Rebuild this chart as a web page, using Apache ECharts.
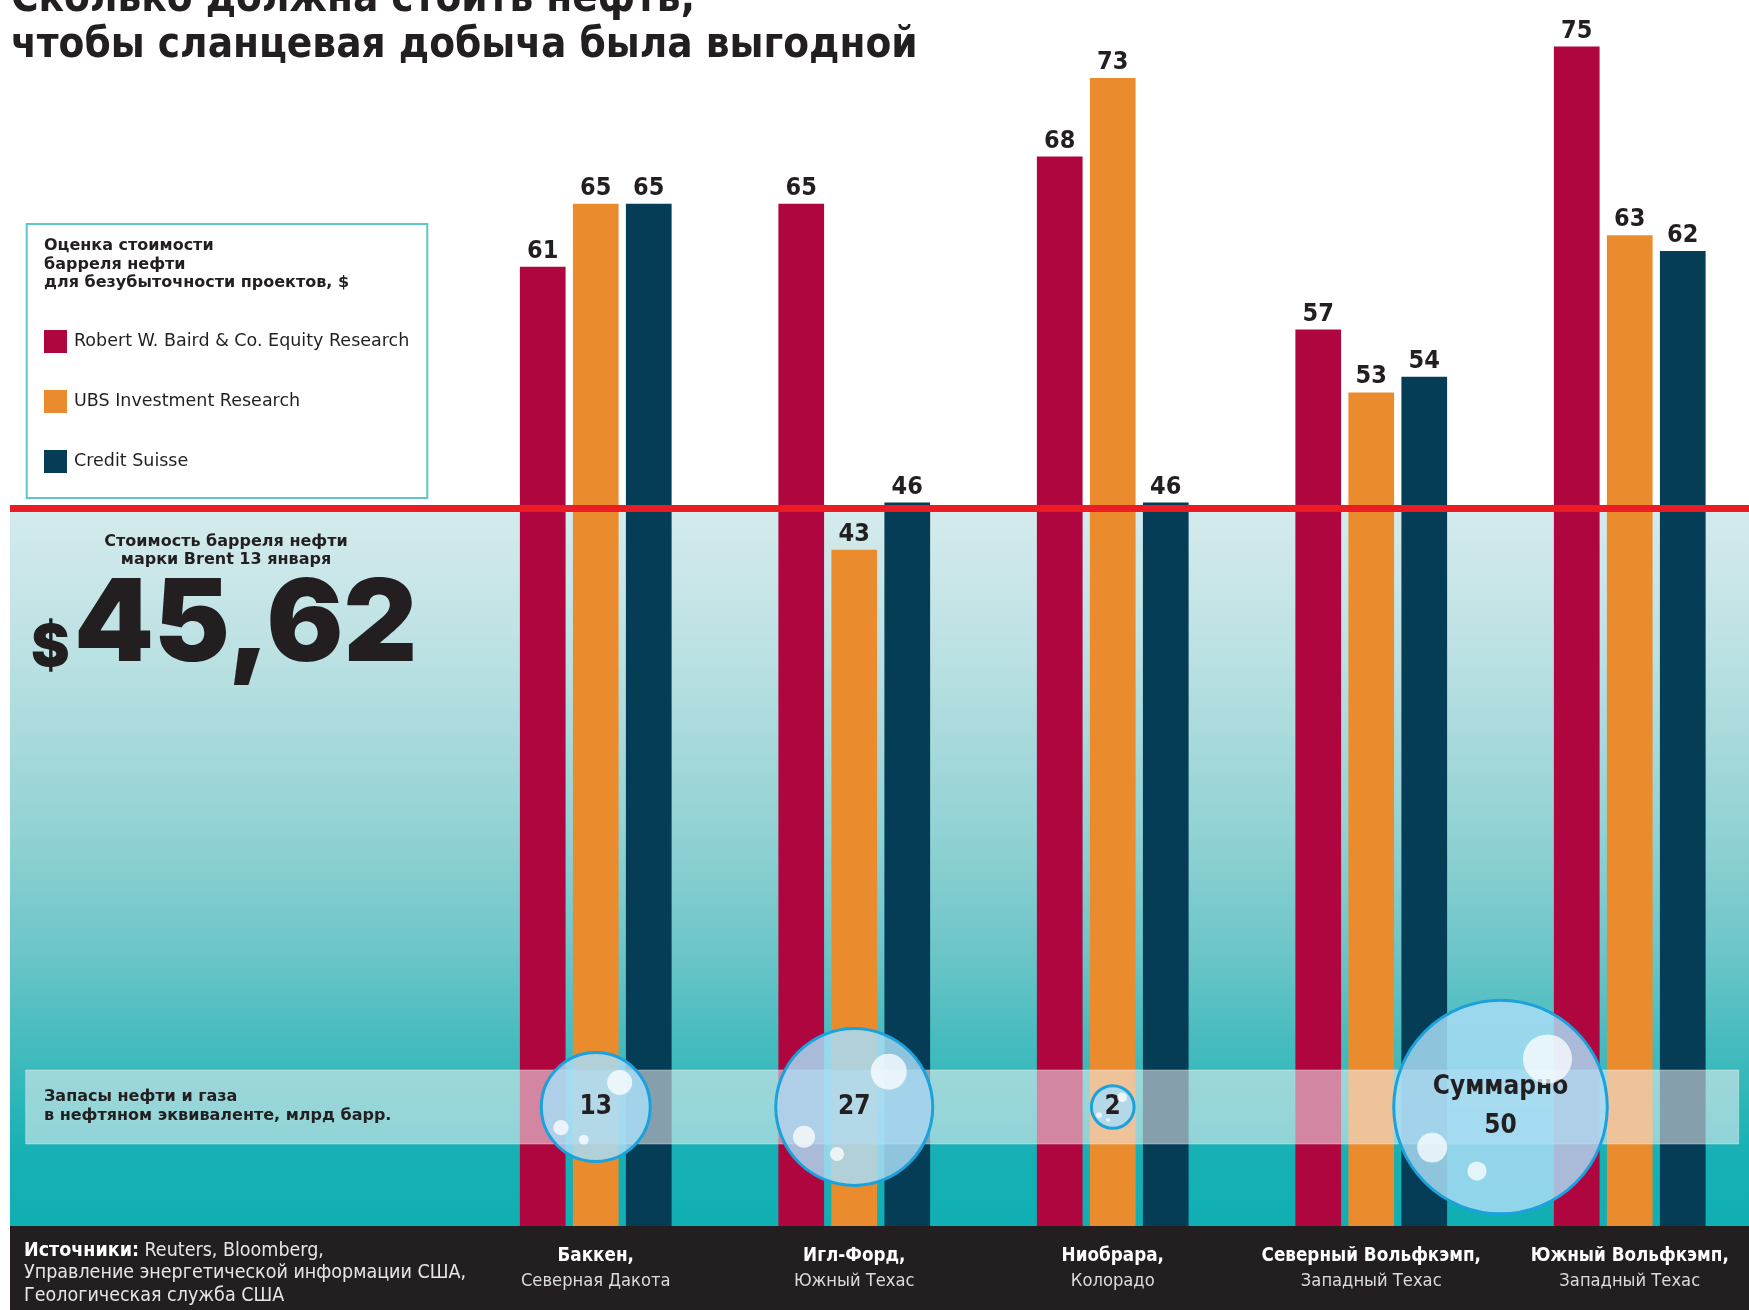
<!DOCTYPE html>
<html>
<head>
<meta charset="utf-8">
<script src="https://cdn.jsdelivr.net/npm/echarts@6/dist/echarts.min.js"></script>
<style>
  html, body { margin: 0; padding: 0; background: #fff; }
  #main { width: 1749px; height: 1310px; }
</style>
</head>
<body>
<div id="main"></div>
<script>
// данные
const categories = ['Баккен,', 'Игл-Форд,', 'Ниобрара,', 'Северный Вольфкэмп,', 'Южный Вольфкэмп,'];
const regions = ['Северная Дакота', 'Южный Техас', 'Колорадо', 'Западный Техас', 'Западный Техас'];
const seriesNames = ['Robert W. Baird & Co. Equity Research', 'UBS Investment Research', 'Credit Suisse'];
const bairdData = [61, 65, 68, 57, 75];
const ubsData = [65, 43, 73, 53, 63];
const creditData = [65, 46, 46, 54, 62];
const brentPrice = 45.62;
// запасы, млрд барр. (последнее значение — сумма по двум Вольфкэмпам)
const reserves = [13, 27, 2, 50];
const reserveCats = [[0], [1], [2], [3, 4]];
const reserveLabels = ['13', '27', '2', 'Суммарно\n50'];

const colors = ['#b0063f', '#ea8c2e', '#053d57'];
const ink = '#231f20';

// узкий шрифт: берём первый установленный
const measureCtx = document.createElement('canvas').getContext('2d');
function fontAvailable(name) {
    const s = 'абвгдежзий ЁЖЩ 0123456789 WwMm';
    return ['monospace', 'serif'].every(base => {
        measureCtx.font = '40px ' + base;
        const w0 = measureCtx.measureText(s).width;
        measureCtx.font = '40px "' + name + '", ' + base;
        return measureCtx.measureText(s).width !== w0;
    });
}
const narrow = ['DejaVu Sans Condensed', 'Liberation Sans Narrow', 'Roboto Condensed',
    'Noto Sans Condensed', 'Open Sans Condensed'].find(fontAvailable) || 'Roboto';
function fitSize(str, weight, family, width) {
    measureCtx.font = weight + ' 100px "' + family + '"';
    return Math.round(100 * width / measureCtx.measureText(str).width * 10) / 10;
}

const titleSize = fitSize('чтобы сланцевая добыча была выгодной', 'bold', narrow, 907);
const valueSize = Math.max(25, fitSize('65', 'bold', narrow, 26.5));
const bubbleSizeFont = Math.max(26, fitSize('13', 'bold', narrow, 29));
const catBoldSize = fitSize('Северный Вольфкэмп,', 'bold', narrow, 220);
const catSize = fitSize('Северная Дакота', 'normal', narrow, 149.5);
const srcSize = fitSize('Управление энергетической информации США,', 'normal', narrow, 442);

let chartDom = document.getElementById('main');
let myChart = echarts.init(chartDom);

const maxValue = Math.max(...bairdData, ...ubsData, ...creditData);
const bubbleSize = v => 30.2 * Math.sqrt(v);
const bubbleData = reserves.map((v, i) => {
    const cats = reserveCats[i];
    const x = cats.reduce((a, b) => a + b, 0) / cats.length;
    return [x, 0.5, v];
});

function barSeries(name, data, color) {
    return {
        name: name,
        type: 'bar',
        data: data,
        barWidth: 45.7,
        barGap: '16%',
        z: 2,
        itemStyle: { color: color },
        label: {
            show: true,
            position: 'top',
            distance: 3,
            color: ink,
            fontFamily: narrow,
            fontWeight: 'bold',
            fontSize: valueSize
        }
    };
}

let option = {
    animation: false,
    backgroundColor: '#fff',
    title: {
        text: 'Сколько должна стоить нефть,\nчтобы сланцевая добыча была выгодной',
        left: 11,
        top: -23,
        padding: 0,
        textStyle: { color: ink, fontFamily: narrow, fontWeight: 'bold', fontSize: titleSize, lineHeight: 46 }
    },
    legend: {
        orient: 'vertical',
        left: 44,
        top: 330,
        padding: 0,
        itemWidth: 23,
        itemHeight: 23,
        itemGap: 37,
        icon: 'rect',
        data: seriesNames,
        textStyle: { color: ink, fontFamily: 'DejaVu Sans', fontSize: 17.5, padding: [0, 0, 0, 2] }
    },
    grid: [
        { left: 466.5, width: 1292.5, top: 46.5, bottom: 84, outerBoundsMode: 'none' },
        { left: 466.5, width: 1292.5, top: 1070, height: 74, outerBoundsMode: 'none' }
    ],
    xAxis: [
        {
            type: 'category',
            gridIndex: 0,
            data: categories,
            z: 10,
            axisLine: { show: false },
            axisTick: { show: false },
            axisLabel: {
                interval: 0,
                margin: 18,
                formatter: (v, i) => '{b|' + v + '}\n{r|' + regions[i] + '}',
                rich: {
                    b: { color: '#fff', fontFamily: narrow, fontWeight: 'bold', fontSize: catBoldSize, lineHeight: 25 },
                    r: { color: '#dcdcdc', fontFamily: narrow, fontSize: catSize, lineHeight: 25 }
                }
            }
        },
        { type: 'value', gridIndex: 1, min: -0.5, max: categories.length - 0.5, show: false }
    ],
    yAxis: [
        { type: 'value', gridIndex: 0, min: 0, max: maxValue, show: false, splitLine: { show: false } },
        { type: 'value', gridIndex: 1, min: 0, max: 1, show: false, splitLine: { show: false } }
    ],
    series: [
        barSeries(seriesNames[0], bairdData, colors[0]),
        barSeries(seriesNames[1], ubsData, colors[1]),
        barSeries(seriesNames[2], creditData, colors[2]),
        {
            type: 'scatter',
            xAxisIndex: 1,
            yAxisIndex: 1,
            z: 6,
            data: bubbleData,
            symbolSize: d => bubbleSize(d[2]),
            itemStyle: { color: 'rgba(168,220,244,0.85)', borderColor: '#1ba1dc', borderWidth: 3, opacity: 1 },
            label: {
                show: true,
                position: 'inside',
                formatter: p => reserveLabels[p.dataIndex],
                color: ink,
                fontFamily: narrow,
                fontWeight: 'bold',
                fontSize: bubbleSizeFont,
                lineHeight: 39
            }
        }
    ]
};

myChart.setOption(option);

// фон, линия Brent, подписи — по координатам осей
const yBrent = myChart.convertToPixel({ yAxisIndex: 0 }, brentPrice);
const yZero = myChart.convertToPixel({ yAxisIndex: 0 }, 0);
const W = 1749, H = 1310;

let graphics = [
    {
        type: 'rect', z: 0, silent: true,
        shape: { x: 10, y: yBrent, width: W - 10, height: yZero - yBrent },
        style: {
            fill: new echarts.graphic.LinearGradient(0, 0, 0, 1, [
                { offset: 0, color: '#d5ebed' },
                { offset: 0.2, color: '#bce1e3' },
                { offset: 0.45, color: '#92d2d4' },
                { offset: 0.62, color: '#6cc5c8' },
                { offset: 0.78, color: '#3bb9bc' },
                { offset: 0.9, color: '#16b0b4' },
                { offset: 1, color: '#10afb3' }
            ])
        }
    },
    {
        type: 'rect', z: 3, silent: true,
        shape: { x: 10, y: yBrent - 3.5, width: W - 10, height: 7 },
        style: { fill: '#ec1c24' }
    },
    {
        type: 'rect', z: 1, silent: true,
        shape: { x: 10, y: yZero, width: W - 10, height: H - yZero },
        style: { fill: ink }
    },
    {
        type: 'rect', z: 1, silent: true,
        shape: { x: 26.7, y: 224, width: 400.6, height: 274 },
        style: { fill: '#fff', stroke: '#5cc6c9', lineWidth: 2 }
    },
    {
        type: 'text', z: 8, left: 44, top: 237,
        style: {
            text: 'Оценка стоимости\nбарреля нефти\nдля безубыточности проектов, $',
            fill: ink, font: 'bold 16px "DejaVu Sans"', lineHeight: 18.3
        }
    },
    {
        type: 'text', z: 8, x: 226, y: 551,
        style: {
            text: 'Стоимость барреля нефти\nмарки Brent 13 января',
            fill: ink, font: 'bold 16px "DejaVu Sans"', lineHeight: 17.5,
            align: 'center', verticalAlign: 'middle'
        }
    },
    {
        type: 'text', z: 8, x: 31, y: 649,
        style: { text: '$', fill: ink, font: '900 58px Inter', verticalAlign: 'middle' }
    },
    {
        type: 'text', z: 8, x: 74, y: 627,
        style: { text: brentPrice.toFixed(2).replace('.', ','), fill: ink, font: '900 114px Inter', verticalAlign: 'middle' }
    },
    {
        type: 'rect', z: 4, silent: true,
        shape: { x: 25.7, y: 1070, width: 1713, height: 74 },
        style: { fill: 'rgba(240,240,242,0.55)', stroke: 'rgba(255,255,255,0.35)', lineWidth: 1 }
    },
    {
        type: 'text', z: 8, x: 44, y: 1106,
        style: {
            text: 'Запасы нефти и газа\nв нефтяном эквиваленте, млрд барр.',
            fill: ink, font: 'bold 16px "DejaVu Sans"', lineHeight: 19, verticalAlign: 'middle'
        }
    },
    {
        type: 'text', z: 8, x: 24, y: 1273,
        style: {
            text: '{b|Источники:} Reuters, Bloomberg,\nУправление энергетической информации США,\nГеологическая служба США',
            fill: '#e6e6e6', font: srcSize + 'px "' + narrow + '"', lineHeight: 22.5, verticalAlign: 'middle',
            rich: { b: { fill: '#fff', font: 'bold ' + srcSize + 'px "' + narrow + '"' } }
        }
    }
];

// блики на пузырях
bubbleData.forEach(d => {
    const c = myChart.convertToPixel({ xAxisIndex: 1, yAxisIndex: 1 }, [d[0], d[1]]);
    const r = bubbleSize(d[2]) / 2;
    [[0.44, -0.45, 0.23], [-0.64, 0.38, 0.14], [-0.22, 0.6, 0.09]].forEach(h => {
        graphics.push({
            type: 'circle', z: 7, silent: true,
            shape: { cx: c[0] + h[0] * r, cy: c[1] + h[1] * r, r: h[2] * r },
            style: { fill: 'rgba(255,255,255,0.75)' }
        });
    });
});

myChart.setOption({ graphic: graphics });
</script>
</body>
</html>
